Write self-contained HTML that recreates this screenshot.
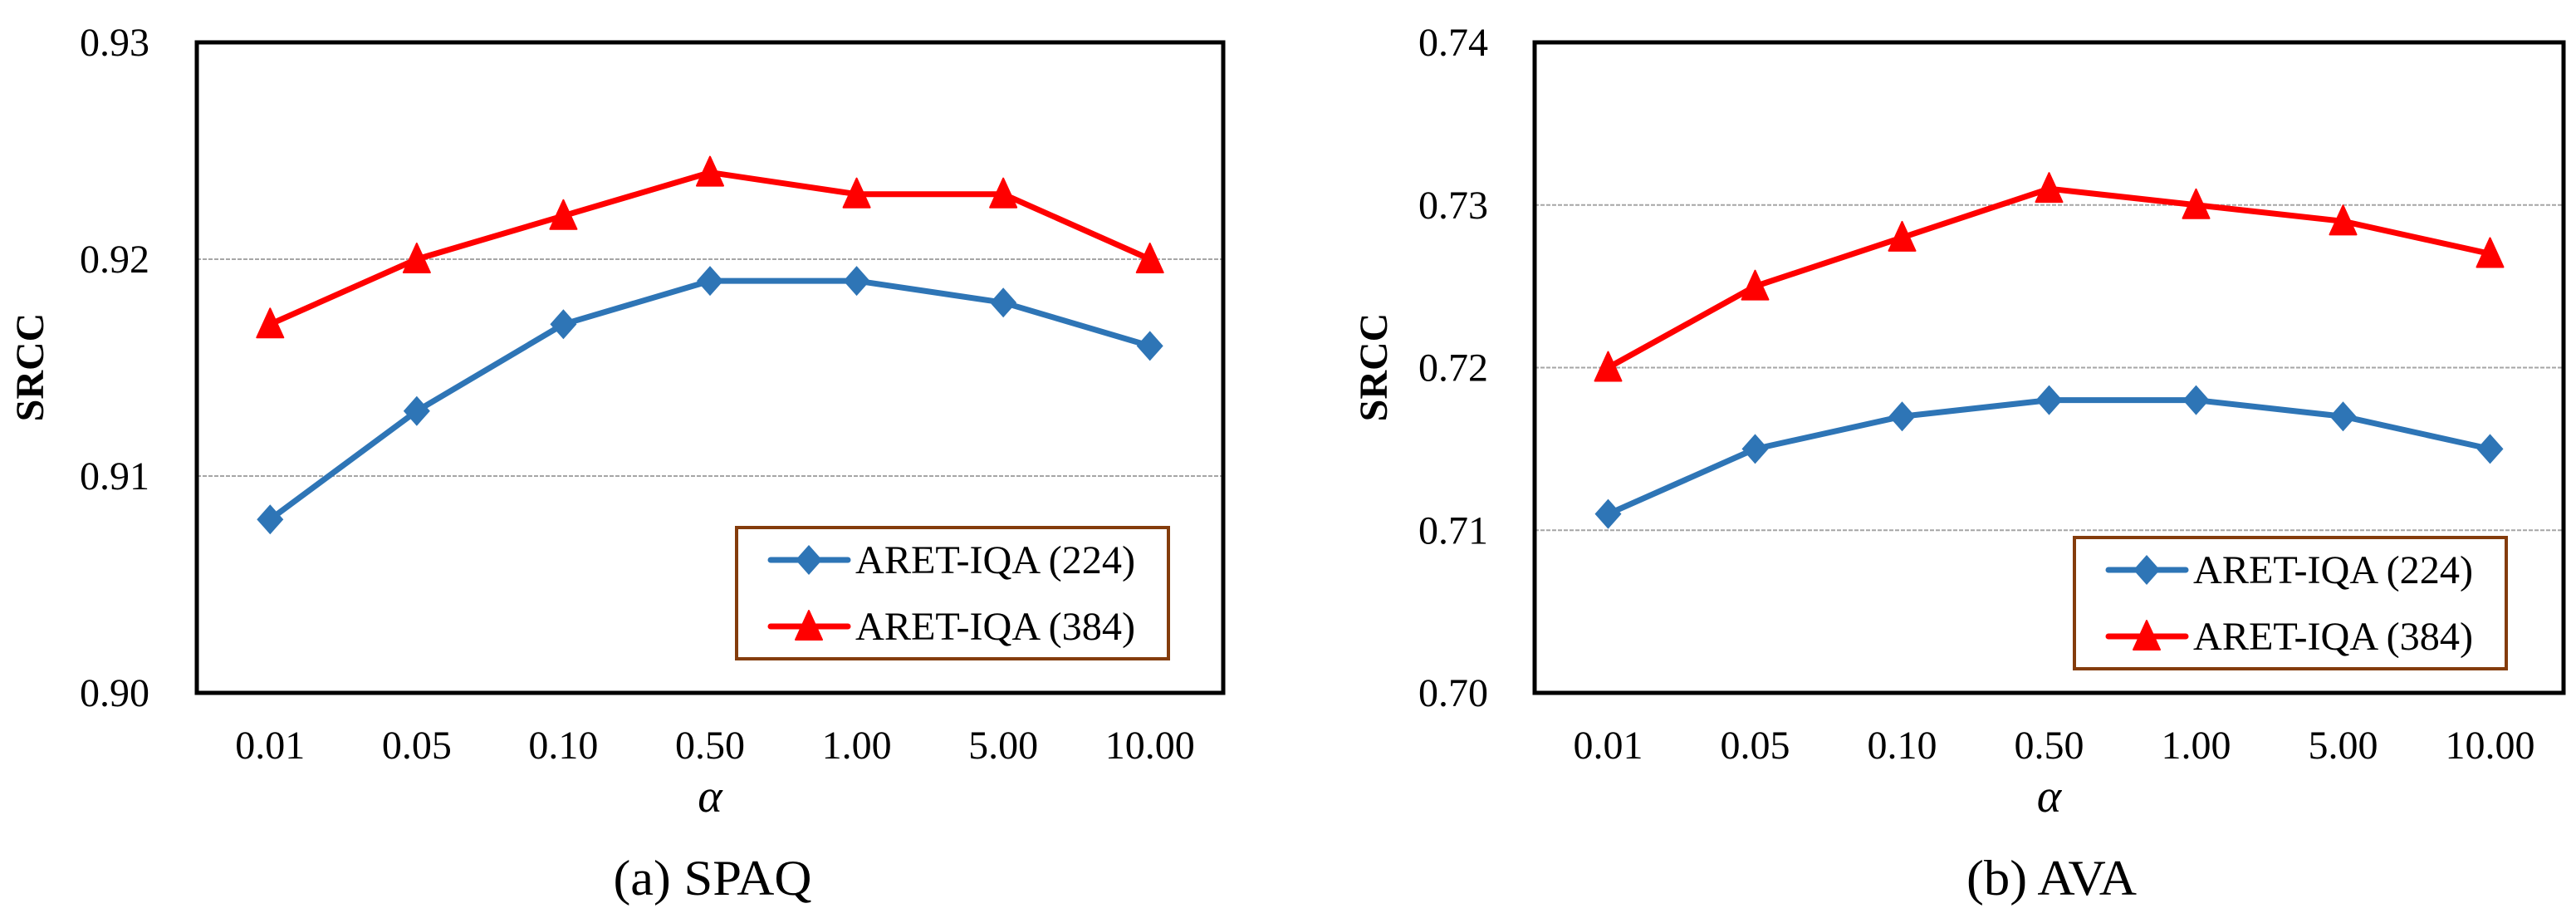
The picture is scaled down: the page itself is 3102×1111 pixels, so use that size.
<!DOCTYPE html>
<html><head><meta charset="utf-8"><style>
html,body{margin:0;padding:0;background:#fff;}
svg, svg text{font-family:"Liberation Serif","Times New Roman","DejaVu Serif",serif;}
</style></head><body>
<svg id="fig" width="3102" height="1106" viewBox="0 0 3102 1106" xmlns="http://www.w3.org/2000/svg" font-family="Liberation Serif, Times New Roman, DejaVu Serif, serif"></svg>
<script>
const categories = ["0.01","0.05","0.10","0.50","1.00","5.00","10.00"];
const spaq224 = [0.908,0.913,0.917,0.919,0.919,0.918,0.916];
const spaq384 = [0.917,0.920,0.922,0.924,0.923,0.923,0.920];
const ava224 = [0.711,0.715,0.717,0.718,0.718,0.717,0.715];
const ava384 = [0.720,0.725,0.728,0.731,0.730,0.729,0.727];
const spaqTicks = ["0.90","0.91","0.92","0.93"];
const avaTicks = ["0.70","0.71","0.72","0.73","0.74"];
const seriesNames = ["ARET-IQA (224)","ARET-IQA (384)"];

const NS="http://www.w3.org/2000/svg";
const FF="Liberation Serif, Times New Roman, DejaVu Serif, serif";
const svg=document.getElementById('fig');
function mk(tag,attrs,parent){const e=document.createElementNS(NS,tag);for(const k in attrs)e.setAttribute(k,attrs[k]);if(tag==='text')e.setAttribute('font-family',FF);(parent||svg).appendChild(e);return e;}

function drawChart(o){
  const g=mk('g',{});
  
  
  const L=o.x0,R=o.x1,T=51,B=834;
  const ticks=o.ticks.map(Number);
  const ymin=ticks[0],ymax=ticks[ticks.length-1];
  const ys=v=>B-(v-ymin)/(ymax-ymin)*(B-T);
  const step=(R-L)/categories.length;
  const xs=i=>L+step*(i+0.5);
  ticks.forEach((t,i)=>{
    if(i>0&&i<ticks.length-1){
      const l=mk('line',{x1:L,x2:R,y1:ys(t),y2:ys(t),stroke:'#a6a6a6','stroke-width':2,'stroke-dasharray':'5,2'},g);
      
      
    }
    const tx=mk('text',{x:o.tickRight,y:ys(t)+16,'text-anchor':'end','font-size':48},g);
    tx.textContent=o.ticks[i];
    
    
  });
  categories.forEach((c,i)=>{
    const tx=mk('text',{x:xs(i),y:913,'text-anchor':'middle','font-size':48},g);
    tx.textContent=c;
    
    
  });
  const box=mk('rect',{x:L,y:T,width:R-L,height:B-T,fill:'none',stroke:'#000','stroke-width':5},g);
  
  
  const colors=['#2E75B6','#FF0000'];
  [o.s1,o.s2].forEach((s,k)=>{
    const pts=s.map((v,i)=>xs(i)+','+ys(v)).join(' ');
    const pl=mk('polyline',{points:pts,fill:'none',stroke:colors[k],'stroke-width':7,'stroke-linejoin':'round'},g);
    
    
    s.forEach((v,i)=>{
      const m=marker(k,xs(i),ys(v),g);
      
      
    });
  });
  const lg=mk('g',{},g);
  
  
  const lr=mk('rect',{x:o.lx,y:o.ly,width:520,height:158,fill:'#fff',stroke:'#843C0C','stroke-width':4},lg);
  
  
  [0,1].forEach(k=>{
    const cy=o.ly+(k?119:39);
    const ln=mk('line',{x1:o.lx+41,x2:o.lx+134,y1:cy,y2:cy,stroke:colors[k],'stroke-width':7,'stroke-linecap':'round'},lg);
    
    
    const m=marker(k,o.lx+87,cy,lg);
    
    
    const t=mk('text',{x:o.lx+143,y:cy+16,'font-size':48,textLength:337,lengthAdjust:'spacingAndGlyphs'},lg);
    t.textContent=seriesNames[k];
    
    
  });
  const yt=mk('text',{x:0,y:0,'font-size':48,'font-weight':'bold','text-anchor':'middle',transform:`translate(${o.ytx},442) rotate(-90)`},g);
  yt.textContent='SRCC';
  
  
  const xt=mk('text',{x:(L+R)/2,y:977,'font-size':56,'font-style':'italic','text-anchor':'middle'},g);
  xt.textContent='α';
  
  
  const cp=mk('text',{x:(L+R)/2+3,y:1077,'font-size':60,'text-anchor':'middle',textLength:o.capLen,lengthAdjust:'spacingAndGlyphs'},g);
  cp.textContent=o.caption;
  
  
}
function marker(k,x,y,parent){
  if(k===0) return mk('polygon',{points:`${x},${y-18} ${x+16},${y} ${x},${y+18} ${x-16},${y}`,fill:'#2E75B6'},parent);
  return mk('polygon',{points:`${x},${y-19} ${x+16},${y+16} ${x-16},${y+16}`,fill:'#FF0000',stroke:'#FF0000','stroke-width':2,'stroke-linejoin':'round'},parent);
}
drawChart({name:'chart-spaq',x0:237,x1:1473,ticks:spaqTicks,s1:spaq224,s2:spaq384,tickRight:180,lx:887,ly:635,ytx:52,caption:'(a) SPAQ',capLen:239});
drawChart({name:'chart-ava',x0:1848,x1:3087,ticks:avaTicks,s1:ava224,s2:ava384,tickRight:1792,lx:2498,ly:647,ytx:1670,caption:'(b) AVA',capLen:205});
</script>
</body></html>
